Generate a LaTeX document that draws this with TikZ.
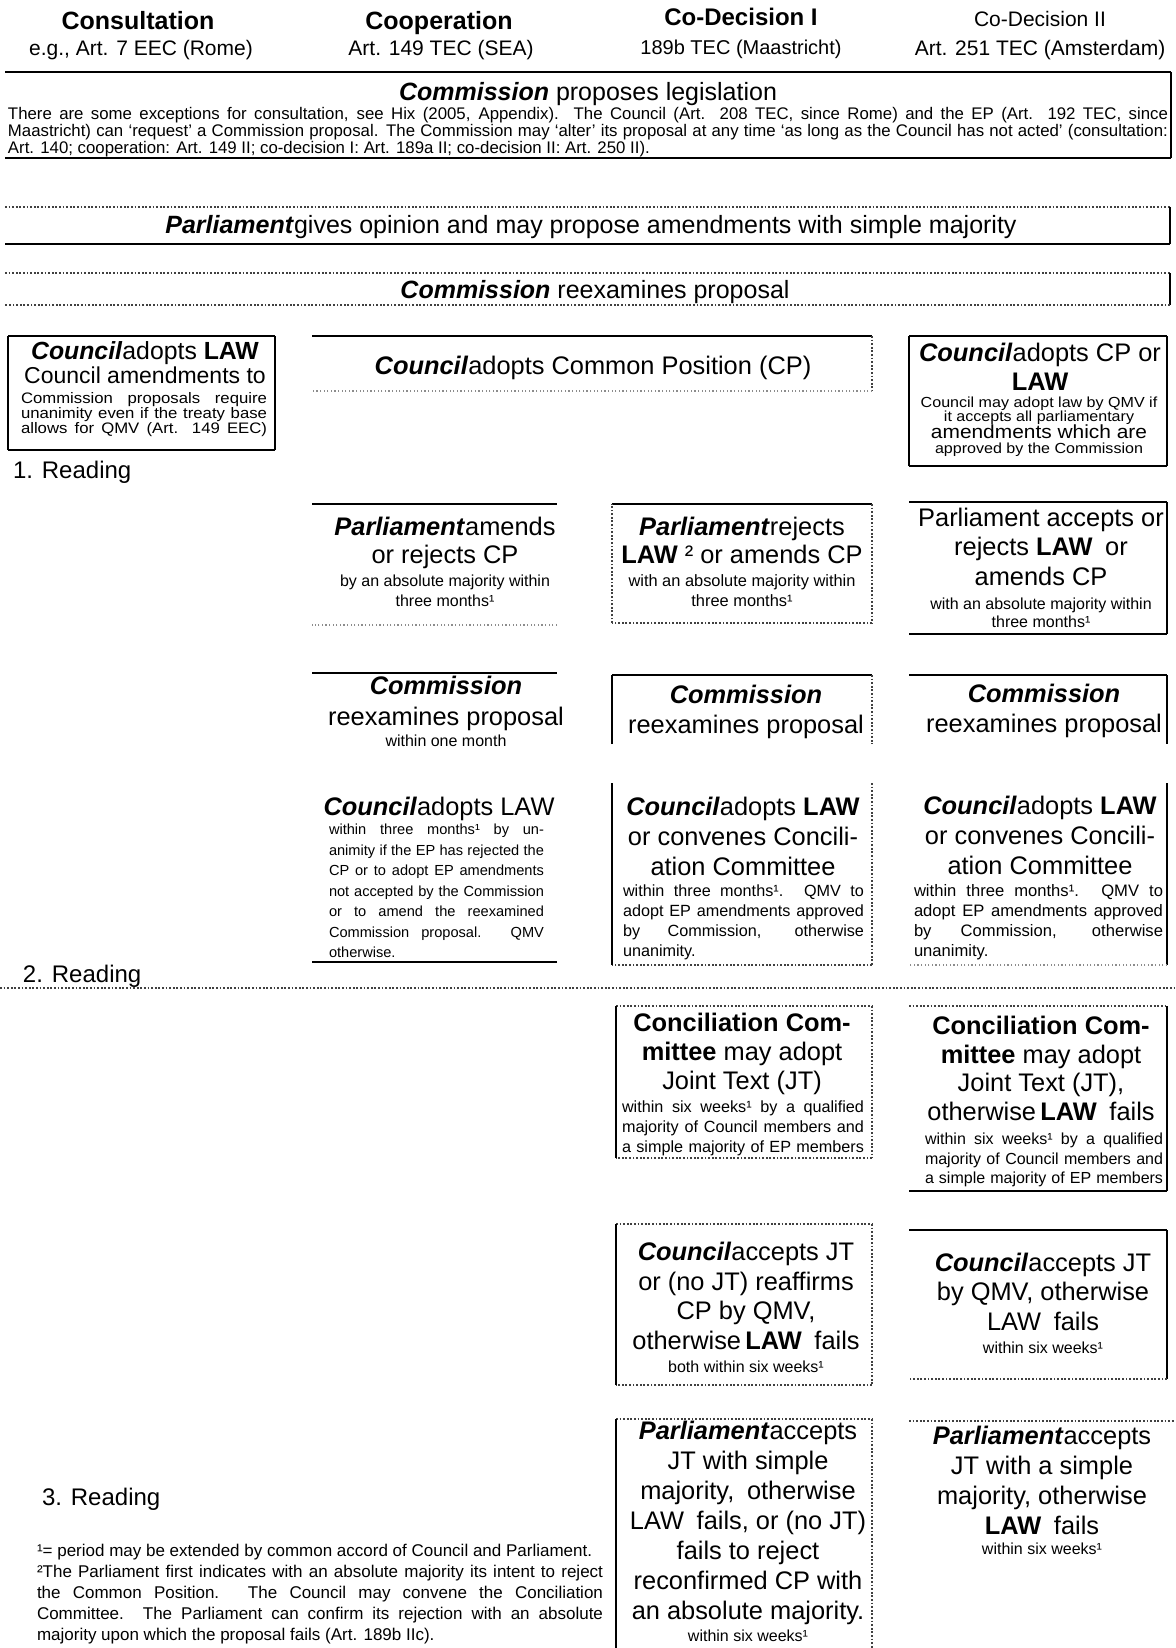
\documentclass[tikz,border=0pt]{standalone}
\usepackage{fontspec}
\setmainfont{Liberation Sans}
\newfontfamily\wsf[FakeStretch=1.1]{Liberation Sans}
\usetikzlibrary{fit}
\newcommand{\BI}[1]{\textbf{\textit{#1}}}
\newcommand{\JL}[2]{\makebox[#1][s]{#2}}
\newcommand{\nolsl}{\lineskiplimit=-20pt\relax}
\newcommand{\edges}[5]{%
  \draw[#2] (#1.north west) -- (#1.north east);
  \draw[#3] (#1.north east) -- (#1.south east);
  \draw[#4] (#1.south east) -- (#1.south west);
  \draw[#5] (#1.south west) -- (#1.north west);}
\tikzset{
  eS/.style={draw=black, line width=1pt},
  eD/.style={draw=black!75, line width=0.8pt, dash pattern=on 0.9pt off 0.9pt},
  eL/.style={draw=black!45, line width=0.6pt, dash pattern=on 0.6pt off 1.2pt},
  eN/.style={draw=none},
  frame/.style={inner sep=0pt, outer sep=0pt},
  tx/.style={inner sep=0pt, outer sep=0pt, align=center, anchor=north},
  txl/.style={inner sep=0pt, outer sep=0pt, align=left, anchor=north west},
  fs/.style 2 args={font=\fontsize{#1}{#2}\selectfont\nolsl},
  fsw/.style 2 args={font=\wsf\fontsize{#1}{#2}\selectfont\nolsl},
}
\begin{document}
\begin{tikzpicture}[x=0.5pt,y=-0.5pt]
\fill[white] (0,0) rectangle (1175,1648);
\useasboundingbox (0,0) rectangle (1175,1648);

% column headers
\node[tx, fs={12.5}{14}] (h1) at (138,11) {\textbf{Consultation}};
\node[tx, fs={10.5}{12}] (h1s) at (141,40.6) {e.g., Art. 7 EEC (Rome)};
\node[tx, fs={12.5}{14}] (h2) at (439,11) {\textbf{Cooperation}};
\node[tx, fs={10.5}{12}] (h2s) at (441,40.6) {Art. 149 TEC (SEA)};
\node[tx, fs={12}{14}] (h3) at (741,8.4) {\textbf{Co-Decision I}};
\node[tx, fs={10}{12}] (h3s) at (741,40) {189b TEC (Maastricht)};
\node[tx, fs={10.5}{12}] (h4) at (1040,11.6) {Co-Decision II};
\node[tx, fs={10.5}{12}] (h4s) at (1040,40.6) {Art. 251 TEC (Amsterdam)};

% Commission proposes
\node[frame, fit={(5,72) (1171,158)}] (hdr) {};
\node[tx, fs={12.5}{14}] (hdrt) at (588,82) {\BI{Commission} proposes legislation};
\node[txl, fs={8.4}{8.5}] (hdrn) at (8,107) {\JL{580pt}{There are some exceptions for consultation, see Hix (2005, Appendix).\ \ The Council (Art. 208 TEC, since Rome) and the EP (Art. 192 TEC, since}\\
\JL{580pt}{Maastricht) can ‘request’ a Commission proposal. The Commission may ‘alter’ its proposal at any time ‘as long as the Council has not acted’ (consultation:}\\
Art. 140; cooperation: Art. 149 II; co-decision I: Art. 189a II; co-decision II: Art. 250 II).};

% Parliament gives opinion
\node[frame, fit={(5,207) (1170,244)}] (parl) {};
\node[tx, fs={12.5}{14}] (parlt) at (591,215) {\BI{Parliament}gives opinion and may propose amendments with simple majority};

% Commission reexamines
\node[frame, fit={(5,273) (1170,305)}] (comm) {};
\node[tx, fs={12.5}{14}] (commt) at (595,280) {\BI{Commission} reexamines proposal};

% first reading
\node[frame, fit={(8,336) (275,450)}] (c1) {};
\node[tx, fs={12.4}{12}] (c1t) at (145,342) {\BI{Council}adopts \textbf{LAW}\\{\fontsize{11.5}{12}\selectfont Council amendments to}};
\node[txl, fsw={7.6}{7.5}] (c1n) at (21,392) {\JL{123pt}{Commission proposals require}\\\JL{123pt}{unanimity even if the treaty base}\\\JL{123pt}{allows for QMV (Art. 149 EEC)}};

\node[frame, fit={(312,336) (872,391)}] (c23) {};
\node[tx, fs={12.7}{14}] (c23t) at (593,356) {\BI{Council}adopts Common Position (CP)};

\node[frame, fit={(909,336) (1167,466)}] (c4) {};
\node[tx, fs={12.7}{14.5}] (c4t) at (1040,343) {\BI{Council}adopts CP or\\\textbf{LAW}};
\node[tx, fsw={7.3}{7}] (c4n) at (1039,397) {Council may adopt law by QMV if\\it accepts all parliamentary\\[1.4pt]{\fontsize{9.5}{7}\selectfont amendments which are}\\[0.6pt]approved by the Commission};

\node[txl, fs={12}{14}] (rd1) at (13,461) {1. Reading};

% Parliament row
\node[frame, fit={(312,504) (557,625)}] (p2) {};
\node[tx, fs={12.7}{14}] (p2t) at (445,517) {\BI{Parliament}amends\\or rejects CP};
\node[tx, fs={8}{10}] (p2n) at (445,575) {by an absolute majority within\\three months¹};

\node[frame, fit={(612,504) (872,623)}] (p3) {};
\node[tx, fs={12.7}{14}] (p3t) at (742,517) {\BI{Parliament}rejects\\\textbf{LAW} ² or amends CP};
\node[tx, fs={8.2}{10}] (p3n) at (742,575) {with an absolute majority within\\three months¹};

\node[frame, fit={(909,502) (1167,634)}] (p4) {};
\node[tx, fs={12.7}{14.75}] (p4t) at (1041,508) {Parliament accepts or\\rejects \textbf{LAW}\enspace or\\amends CP};
\node[tx, fs={8}{9}] (p4n) at (1041,598) {with an absolute majority within\\three months¹};

% Commission row
\node[frame, fit={(312,673) (557,751)}] (m2) {};
\node[tx, fs={12.7}{15.5}] (m2t) at (446,676) {\BI{Commission}\\reexamines proposal};
\node[tx, fs={8}{10}] (m2n) at (446,735) {within one month};

\node[frame, fit={(612,675) (872,744)}] (m3) {};
\node[tx, fs={12.7}{15}] (m3t) at (746,685) {\BI{Commission}\\reexamines proposal};

\node[frame, fit={(909,675) (1167,744)}] (m4) {};
\node[tx, fs={12.7}{15}] (m4t) at (1044,684) {\BI{Commission}\\reexamines proposal};

% Council row
\node[frame, fit={(312,793) (557,962)}] (l2) {};
\node[tx, fs={12.7}{14}] (l2t) at (439,797) {\BI{Council}adopts LAW};
\node[txl, fs={7.3}{10.25}] (l2n) at (329,824) {\JL{107.5pt}{within three months¹ by un-}\\\JL{107.5pt}{animity if the EP has rejected the}\\\JL{107.5pt}{CP or to adopt EP amendments}\\\JL{107.5pt}{not accepted by the Commission}\\\JL{107.5pt}{or to amend the reexamined}\\\JL{107.5pt}{Commission proposal. QMV}\\otherwise.};

\node[frame, fit={(612,783) (872,965)}] (l3) {};
\node[tx, fs={12.7}{15}] (l3t) at (743,797) {\BI{Council}adopts \textbf{LAW}\\or convenes Concili-\\ation Committee};
\node[txl, fs={8.1}{10}] (l3n) at (623,885) {\JL{120.5pt}{within three months¹. QMV to}\\\JL{120.5pt}{adopt EP amendments approved}\\\JL{120.5pt}{by Commission, otherwise}\\unanimity.};

\node[frame, fit={(909,783) (1167,965)}] (l4) {};
\node[tx, fs={12.7}{15}] (l4t) at (1040,796) {\BI{Council}adopts \textbf{LAW}\\or convenes Concili-\\ation Committee};
\node[txl, fs={8.3}{10}] (l4n) at (914,884) {\JL{124.5pt}{within three months¹. QMV to}\\\JL{124.5pt}{adopt EP amendments approved}\\\JL{124.5pt}{by Commission, otherwise}\\unanimity.};

\node[txl, fs={12}{14}] (rd2) at (23,965) {2. Reading};
\coordinate (dl) at (0,988);
\coordinate (dr) at (1175,988);
\draw[eD] (dl) -- (dr);

% Conciliation row
\node[frame, fit={(616,1006) (872,1158)}] (k3) {};
\node[tx, fs={12.7}{14.5}] (k3t) at (742,1013) {\textbf{Conciliation Com-}\\\textbf{mittee} may adopt\\Joint Text (JT)};
\node[txl, fs={8.1}{10}] (k3n) at (622,1101) {\JL{121pt}{within six weeks¹ by a qualified}\\\JL{121pt}{majority of Council members and}\\\JL{121pt}{a simple majority of EP members}};

\node[frame, fit={(909,1006) (1167,1191)}] (k4) {};
\node[tx, fs={12.7}{14.3}] (k4t) at (1041,1016) {\textbf{Conciliation Com-}\\\textbf{mittee} may adopt\\Joint Text (JT),\\otherwise\,\textbf{LAW}\enspace fails};
\node[txl, fs={8}{9.7}] (k4n) at (925,1133) {\JL{119pt}{within six weeks¹ by a qualified}\\\JL{119pt}{majority of Council members and}\\\JL{119pt}{a simple majority of EP members}};

% Council accepts row
\node[frame, fit={(616,1224) (872,1385)}] (a3) {};
\node[tx, fs={12.7}{14.8}] (a3t) at (746,1242) {\BI{Council}accepts JT\\or (no JT) reaffirms\\CP by QMV,\\otherwise\,\textbf{LAW}\enspace fails};
\node[tx, fs={8}{10}] (a3n) at (746,1361) {both within six weeks¹};

\node[frame, fit={(909,1230) (1167,1379)}] (a4) {};
\node[tx, fs={12.7}{14.75}] (a4t) at (1043,1253) {\BI{Council}accepts JT\\by QMV, otherwise\\LAW\enspace fails};
\node[tx, fs={8}{10}] (a4n) at (1043,1342) {within six weeks¹};

% Parliament accepts row
\node[frame, fit={(616,1419) (872,1648)}] (r3) {};
\node[tx, fs={12.7}{15}] (r3t) at (748,1421) {\BI{Parliament}accepts\\JT with simple\\majority,\enspace otherwise\\LAW\enspace fails, or (no JT)\\fails to reject\\reconfirmed CP with\\an absolute majority.};
\node[tx, fs={8}{10}] (r3n) at (748,1630) {within six weeks¹};

\node[frame, fit={(909,1421) (1175,1600)}] (r4) {};
\node[tx, fs={12.7}{15}] (r4t) at (1042,1426) {\BI{Parliament}accepts\\JT with a simple\\majority, otherwise\\\textbf{LAW}\enspace fails};
\node[tx, fs={8}{10}] (r4n) at (1042,1543) {within six weeks¹};

\node[txl, fs={12}{14}] (rd3) at (42,1488) {3. Reading};

\node[txl, fs={8.5}{10.5}] (fn) at (37,1544) {¹= period may be extended by common accord of Council and Parliament.\\
\JL{283pt}{²The Parliament first indicates with an absolute majority its intent to reject}\\
\JL{283pt}{the Common Position. The Council may convene the Conciliation}\\
\JL{283pt}{Committee. The Parliament can confirm its rejection with an absolute}\\
majority upon which the proposal fails (Art. 189b IIc).};

% box outlines (top, right, bottom, left)
\edges{hdr}{eS}{eS}{eS}{eN}
\edges{parl}{eD}{eS}{eS}{eN}
\edges{comm}{eD}{eS}{eD}{eN}
\edges{c1}{eS}{eS}{eS}{eS}
\edges{c23}{eS}{eD}{eL}{eN}
\edges{c4}{eS}{eS}{eS}{eS}
\edges{p2}{eS}{eN}{eL}{eN}
\edges{p3}{eS}{eD}{eD}{eD}
\edges{p4}{eS}{eS}{eS}{eN}
\edges{m2}{eS}{eN}{eN}{eN}
\edges{m3}{eS}{eD}{eN}{eS}
\edges{m4}{eS}{eS}{eN}{eN}
\edges{l2}{eN}{eN}{eS}{eN}
\edges{l3}{eN}{eD}{eD}{eS}
\edges{l4}{eN}{eS}{eL}{eN}
\edges{k3}{eD}{eD}{eD}{eS}
\edges{k4}{eD}{eS}{eS}{eN}
\edges{a3}{eD}{eD}{eD}{eS}
\edges{a4}{eS}{eS}{eD}{eN}
\edges{r3}{eD}{eD}{eN}{eS}
\edges{r4}{eD}{eN}{eN}{eN}
\end{tikzpicture}
\end{document}
